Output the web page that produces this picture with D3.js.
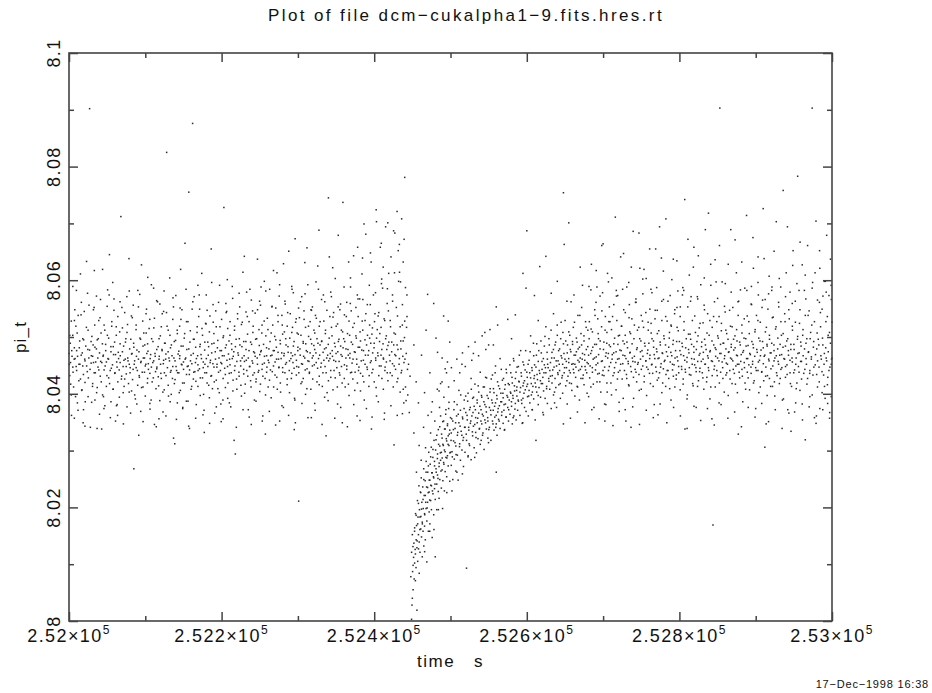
<!DOCTYPE html>
<html>
<head>
<meta charset="utf-8">
<script src="https://cdn.jsdelivr.net/npm/d3@7"></script>
<style>
  body { margin: 0; background: #fff; }
  svg { display: block; font-family: 'Liberation Sans', Arial, sans-serif; }
</style>
</head>
<body>
<div class="chart"></div>
<script>
// time is stored as seconds after T0, pi_t as (pi_t - PI0) / PI_UNIT
var T0 = 252000;
var PI0 = 8;
var PI_UNIT = 1e-4;

// flat lists of [time, pi_t] pairs
var preDip = [
  0,471, 1,432, 1,503, 2,455, 3,398, 3,528, 4,466, 5,447, 5,589, 6,412, 7,481, 7,357, 8,462, 9,519, 10,441, 10,476, 11,384, 12,538, 13,452, 14,493,
  15,426, 15,611, 16,468, 17,407, 18,497, 18,449, 19,372, 20,545, 21,458, 21,420, 22,484, 23,633, 24,439, 25,512, 25,395, 26,463, 27,902, 27,477, 28,341, 29,454,
  30,501, 31,418, 31,466, 32,548, 33,437, 34,389, 34,482, 35,456, 36,572, 37,411, 37,495, 38,447, 39,529, 40,364, 40,472, 41,431, 42,507, 43,455, 44,398, 44,619,
  45,468, 46,442, 46,521, 47,379, 48,487, 49,456, 49,413, 50,554, 51,462, 52,428, 52,498, 53,645, 54,441, 55,474, 55,386, 56,519, 57,451, 58,408, 58,483, 59,567,
  60,436, 61,469, 61,352, 62,503, 63,447, 64,421, 64,536, 65,462, 66,394, 67,488, 67,455, 68,712, 69,431, 70,516, 70,474, 71,402, 72,459, 73,543, 73,426, 74,491,
  75,448, 76,377, 76,508, 77,463, 78,418, 79,581, 79,452, 80,437, 81,496, 82,405, 82,470, 83,534, 84,443, 85,268, 85,482, 86,458, 87,391, 88,521, 88,446, 89,477,
  90,415, 91,553, 91,461, 92,432, 93,498, 94,369, 94,455, 95,627, 96,438, 97,484, 97,412, 98,507, 99,463, 100,449, 100,396, 101,541, 102,471, 103,427, 103,488, 104,453,
  105,515, 106,436, 106,383, 107,469, 108,592, 108,447, 109,421, 110,492, 111,458, 112,346, 112,533, 113,466, 114,409, 115,478, 115,444, 116,562, 117,430, 118,497, 118,461, 119,388,
  120,452, 121,518, 121,427, 122,476, 123,403, 124,545, 124,459, 125,437, 126,489, 127,361, 127,470, 128,825, 129,446, 130,512, 130,415, 131,463, 132,604, 133,438, 133,481, 134,399,
  135,467, 136,531, 136,448, 137,322, 138,492, 139,425, 139,458, 140,573, 141,441, 142,506, 142,384, 143,470, 144,437, 145,519, 145,462, 146,406, 147,484, 148,451, 148,548, 149,374,
  150,456, 151,498, 151,419, 152,665, 153,463, 154,434, 154,527, 155,448, 156,387, 157,479, 157,755, 158,442, 159,511, 160,408, 160,468, 161,453, 162,876, 163,426, 163,496, 164,571,
  165,439, 166,482, 166,357, 167,462, 168,518, 169,413, 169,451, 170,536, 171,444, 172,397, 172,487, 173,469, 174,612, 175,428, 175,503, 176,456, 177,371, 178,491, 178,437, 179,524,
  180,462, 181,419, 181,547, 182,448, 183,483, 184,393, 184,509, 185,455, 186,431, 187,596, 187,472, 188,409, 189,526, 190,447, 190,489, 191,366, 192,461, 193,518, 193,424, 194,452,
  195,494, 196,438, 196,561, 197,402, 198,476, 199,455, 199,382, 200,531, 201,467, 202,427, 202,499, 203,728, 204,445, 205,481, 205,411, 206,543, 207,459, 208,392, 208,515, 209,470,
  210,436, 211,503, 211,451, 212,377, 213,488, 214,462, 214,589, 215,424, 216,474, 217,519, 217,441, 218,294, 219,496, 220,457, 220,408, 221,532, 222,468, 223,431, 223,577, 224,486,
  225,449, 226,396, 226,522, 227,463, 228,614, 229,435, 229,492, 230,457, 231,417, 232,544, 232,478, 233,441, 234,505, 235,372, 235,463, 236,527, 237,448, 238,491, 238,423, 239,565,
  240,458, 241,433, 241,508, 242,474, 243,389, 244,542, 244,466, 245,421, 246,497, 247,452, 247,637, 248,438, 249,513, 250,469, 250,404, 251,556, 252,476, 253,443, 253,521, 254,361,
  255,487, 256,454, 256,598, 257,427, 258,502, 259,467, 259,438, 260,533, 261,412, 262,479, 262,455, 263,584, 264,442, 265,507, 265,393, 266,468, 267,521, 268,449, 268,617, 269,476,
  270,433, 271,495, 271,551, 272,461, 273,408, 274,527, 274,473, 275,446, 276,592, 277,488, 277,419, 278,462, 279,538, 280,446, 280,505, 281,376, 282,471, 283,563, 283,437, 284,497,
  285,455, 286,519, 286,426, 287,483, 288,651, 289,458, 289,402, 290,541, 291,472, 292,436, 292,508, 293,467, 294,578, 295,445, 295,492, 296,389, 297,526, 298,459, 298,433, 299,507,
  300,482, 301,211, 301,447, 302,534, 303,468, 304,418, 304,503, 305,571, 306,452, 307,489, 307,427, 308,546, 309,463, 310,399, 310,517, 311,476, 312,444, 313,592, 313,458, 314,501,
  315,436, 316,527, 316,472, 317,408, 318,488, 319,553, 319,449, 320,467, 321,512, 322,383, 322,478, 323,538, 324,455, 325,421, 325,497, 326,625, 327,462, 328,431, 328,519, 329,486,
  330,447, 331,566, 331,492, 332,413, 333,473, 334,528, 334,459, 335,394, 336,506, 337,481, 337,437, 338,547, 339,468, 340,745, 340,423, 341,498, 342,462, 343,579, 343,441, 344,517,
  345,476, 346,407, 346,535, 347,459, 348,489, 349,428, 349,603, 350,471, 351,446, 352,523, 352,382, 353,492, 354,457, 355,548, 355,433, 356,484, 357,512, 358,419, 358,466, 359,737,
  360,497, 361,451, 361,539, 362,412, 363,479, 364,561, 364,443, 365,506, 366,468, 367,397, 367,528, 368,463, 369,588, 369,437, 370,491, 371,454, 372,517, 372,426, 373,643, 374,474,
  375,438, 376,502, 376,552, 377,461, 378,419, 379,536, 379,482, 380,447, 381,567, 382,405, 382,493, 383,458, 384,611, 385,431, 385,512, 386,476, 387,389, 388,529, 388,452, 389,681,
  390,486, 391,443, 391,557, 392,468, 393,413, 394,521, 394,498, 395,455, 396,632, 397,437, 397,505, 398,472, 399,574, 400,421, 400,489, 401,541, 402,459, 403,396, 403,703, 404,513,
  405,467, 406,543, 406,432, 407,492, 408,658, 409,449, 409,517, 410,478, 411,586, 412,408, 412,463, 413,532, 414,441, 415,694, 415,497, 416,456, 417,559, 418,423, 418,485, 419,612,
  420,468, 421,529, 421,437, 422,641, 423,491, 424,453, 424,574, 425,412, 426,507, 427,683, 427,469, 428,443, 429,552, 430,721, 430,486, 431,427, 432,598, 433,462, 433,663, 434,518,
  435,479, 436,708, 436,441, 437,557, 438,493, 438,632, 439,455, 440,528, 441,412, 441,587, 442,471, 443,536, 440,781, 437,365, 434,403, 426,310
];

var preDipFill = [
  0.4,452, 1.7,489, 2.2,417, 3.6,476, 4.9,503, 5.3,438, 6.8,461, 7.1,529, 8.6,395, 9.4,448, 10.7,507, 11.2,466, 12.9,423, 13.5,481, 14.3,452, 15.8,539, 16.6,406, 17.4,472, 18.9,434, 19.2,495,
  20.6,461, 21.3,386, 22.8,517, 23.1,449, 24.7,478, 25.4,428, 26.2,556, 27.6,443, 28.9,492, 29.3,467, 30.8,413, 31.6,486, 32.1,455, 33.7,521, 34.5,437, 35.9,479, 36.2,402, 37.8,463, 38.4,497, 39.1,442,
  40.7,534, 41.5,457, 42.3,421, 43.8,488, 44.6,466, 45.2,395, 46.9,512, 47.4,449, 48.1,476, 49.7,432, 50.3,503, 51.8,461, 52.6,574, 53.2,418, 54.9,483, 55.5,445, 56.1,527, 57.7,408, 58.4,469, 59.8,491,
  60.3,437, 61.9,518, 62.5,456, 63.1,381, 64.6,473, 65.8,442, 66.4,509, 67.2,467, 68.7,426, 69.3,552, 70.9,448, 71.6,484, 72.2,413, 73.8,461, 74.5,497, 75.1,435, 76.7,522, 77.4,458, 78.9,403, 79.5,479,
  80.2,446, 81.8,537, 82.6,471, 83.3,425, 84.7,489, 85.5,452, 86.1,398, 87.9,513, 88.4,466, 89.6,441, 90.2,582, 91.7,474, 92.3,429, 93.8,496, 94.5,457, 95.1,411, 96.6,528, 97.4,463, 98.9,438, 99.3,486,
  100.7,452, 101.2,507, 102.8,419, 103.5,475, 104.1,443, 105.9,531, 106.4,462, 107.6,389, 108.3,497, 109.8,455, 110.5,428, 111.1,516, 112.7,471, 113.4,439, 114.9,564, 115.2,447, 116.8,483, 117.5,414, 118.3,466, 119.7,502,
  120.4,436, 121.9,478, 122.2,541, 123.6,453, 124.8,407, 125.3,489, 126.7,461, 127.1,432, 128.5,519, 129.9,474, 130.4,396, 131.7,458, 132.3,503, 133.8,441, 134.2,486, 135.6,427, 136.9,553, 137.5,463, 138.1,418, 139.7,494,
  140.3,448, 141.8,512, 142.4,437, 143.9,475, 144.5,402, 145.2,467, 146.7,531, 147.3,452, 148.9,419, 149.5,484, 150.1,443, 151.6,506, 152.2,461, 153.8,387, 154.4,478, 155.9,527, 156.3,449, 157.7,434, 158.5,491, 159.2,458,
  160.8,413, 161.4,549, 162.9,471, 163.5,438, 164.1,496, 165.7,455, 166.3,422, 167.8,508, 168.6,467, 169.2,441, 170.7,574, 171.5,483, 172.1,428, 173.6,462, 174.3,515, 175.9,446, 176.4,399, 177.8,477, 178.2,452, 179.6,523,
  180.3,437, 181.9,491, 182.5,468, 183.1,415, 184.7,537, 185.4,459, 186.8,432, 187.2,488, 188.6,453, 189.9,506, 190.4,421, 191.7,474, 192.3,546, 193.8,447, 194.5,481, 195.1,409, 196.6,463, 197.9,518, 198.4,441, 199.8,476,
  200.2,453, 201.7,389, 202.5,502, 203.3,467, 204.9,434, 205.6,559, 206.2,486, 207.8,448, 208.3,419, 209.7,493, 210.5,461, 211.1,527, 212.6,437, 213.4,478, 214.8,405, 215.3,466, 216.9,512, 217.5,449, 218.1,483, 219.6,426,
  220.9,541, 221.4,472, 222.7,438, 223.2,497, 224.8,458, 225.3,415, 226.6,483, 227.1,526, 228.9,443, 229.5,467, 230.2,401, 231.8,492, 232.4,459, 233.7,536, 234.3,431, 235.9,476, 236.5,448, 237.1,584, 238.6,412, 239.3,487,
  240.8,454, 241.4,519, 242.9,437, 243.2,472, 244.6,496, 245.3,426, 246.7,463, 247.1,548, 248.8,441, 249.4,485, 250.9,417, 251.3,474, 252.7,507, 253.5,452, 254.1,431, 255.8,528, 256.2,466, 257.6,398, 258.9,481, 259.4,447,
  260.7,513, 261.1,459, 262.8,424, 263.5,492, 264.3,467, 265.9,553, 266.4,439, 267.7,476, 268.2,412, 269.6,501, 270.1,456, 271.8,482, 272.4,429, 273.9,538, 274.6,461, 275.2,447, 276.7,494, 277.3,403, 278.8,472, 279.5,521,
  280.1,438, 281.7,467, 282.3,509, 283.8,452, 284.4,486, 285.9,416, 286.6,543, 287.2,473, 288.7,441, 289.3,498, 290.8,462, 291.4,427, 292.9,517, 293.5,455, 294.1,484, 295.6,392, 296.2,469, 297.8,532, 298.4,448, 299.9,476,
  300.5,505, 301.2,437, 302.7,479, 303.3,562, 304.8,453, 305.4,421, 306.9,492, 307.5,466, 308.1,531, 309.6,442, 310.3,488, 311.8,409, 312.4,474, 313.9,519, 314.5,457, 315.1,438, 316.7,496, 317.2,548, 318.8,463, 319.4,426,
  320.9,485, 321.5,451, 322.1,507, 323.6,472, 324.2,533, 325.8,445, 326.3,489, 327.9,416, 328.5,468, 329.1,527, 330.7,454, 331.3,493, 332.8,437, 333.4,574, 334.9,479, 335.6,448, 336.2,512, 337.7,463, 338.3,402, 339.8,487,
  340.4,458, 341.9,536, 342.5,471, 343.1,429, 344.7,502, 345.3,466, 346.8,543, 347.4,441, 348.9,483, 349.5,457, 350.2,519, 351.7,412, 352.3,474, 353.8,496, 354.4,437, 355.9,558, 356.5,469, 357.1,448, 358.6,509, 359.2,481,
  360.8,427, 361.4,492, 362.9,463, 363.5,536, 364.1,449, 365.6,478, 366.2,417, 367.8,503, 368.3,471, 369.9,546, 370.4,438, 371.7,487, 372.3,461, 373.9,524, 374.5,406, 375.1,473, 376.6,498, 377.2,452, 378.8,567, 379.4,441,
  380.9,482, 381.5,509, 382.1,436, 383.7,477, 384.3,528, 385.8,459, 386.4,421, 387.9,495, 388.5,468, 389.1,541, 390.6,447, 391.2,503, 392.8,476, 393.4,432, 394.9,557, 395.5,489, 396.1,458, 397.7,516, 398.3,443, 399.8,481,
  400.4,527, 401.9,463, 402.5,411, 403.1,498, 404.6,472, 405.2,537, 406.8,449, 407.4,506, 408.9,468, 409.5,594, 410.1,427, 411.6,488, 412.2,461, 413.8,529, 414.3,447, 415.9,502, 416.5,478, 417.1,437, 418.6,546, 419.2,491,
  420.8,458, 421.4,518, 422.9,474, 423.5,432, 424.1,563, 425.6,486, 426.2,449, 427.8,505, 428.3,467, 429.9,421, 430.5,537, 431.1,478, 432.6,452, 433.2,614, 434.8,493, 435.4,437, 436.9,521, 437.5,466, 438.1,408, 439.7,499,
  440.3,461, 441.8,388, 442.4,517, 443.6,443, 439.2,672, 431.5,652, 425.4,687, 417.8,701, 409.3,665, 402.6,724, 395.1,648, 386.7,699, 378.3,658, 366.5,632, 352.9,679, 341.2,641, 327.6,688, 311.9,657, 296.4,673, 281.1,629,
  18.5,349, 42.8,338, 63.7,362, 91.4,327, 117.9,356, 138.6,312, 156.8,343, 177.3,332, 199.5,351, 216.4,318, 238.9,346, 257.4,329, 276.1,352, 295.2,337, 317.6,358, 336.9,326, 358.2,349, 377.6,361, 396.4,338, 413.2,355,
  9.7,582, 33.2,617, 57.3,596, 78.6,638, 103.2,605, 124.6,581, 146.3,619, 168.9,591, 186.4,655, 207.5,601, 229.8,642, 251.7,588, 272.6,613, 292.3,584, 309.1,631, 323.7,597, 345.6,622, 368.9,604, 384.7,639, 411.8,623
];

// outer edges of the band before the dip
var preDipEdge = [
  3.3,362, 7.6,548, 11.8,371, 16.2,561, 20.9,343, 24.3,577, 29.7,385, 32.9,552, 36.8,339, 41.3,566, 45.8,374, 50.6,583, 54.2,358, 58.9,547, 62.2,379, 66.9,562, 71.3,347, 75.8,571, 80.7,366, 84.2,556,
  88.9,382, 92.7,575, 97.1,351, 101.6,549, 106.2,373, 110.9,586, 114.4,342, 119.1,558, 123.2,368, 127.8,543, 132.6,386, 136.3,569, 140.8,355, 145.6,551, 149.1,376, 153.4,584, 157.9,339, 162.3,562, 166.8,381, 171.2,549,
  175.6,363, 179.9,574, 184.3,348, 188.8,557, 193.1,377, 197.4,591, 201.9,356, 206.7,545, 210.2,384, 214.5,568, 219.3,341, 223.7,553, 228.1,372, 232.8,579, 236.2,359, 240.6,546, 245.1,387, 249.8,563, 253.3,352, 257.9,581,
  262.6,369, 266.2,554, 270.8,345, 275.5,572, 279.1,379, 283.4,558, 287.8,362, 291.9,589, 296.7,349, 300.9,551, 305.3,383, 309.4,576, 313.2,358, 317.8,547, 322.6,371, 326.9,584, 331.7,346, 335.2,562, 339.6,388, 343.9,571,
  348.3,357, 352.7,553, 356.1,376, 360.5,588, 364.9,342, 368.7,559, 373.2,381, 377.9,574, 381.4,353, 385.1,566, 389.8,374, 393.6,591, 397.2,359, 401.7,578, 405.4,386, 409.8,602, 413.5,366, 417.3,585, 421.9,379, 426.6,613,
  430.2,362, 434.5,597, 438.8,384, 442.9,574
];

var dip = [
  444,398, 445,452, 446,367, 447,431, 448,78, 449,3, 449,121, 450,40, 450,152, 451,55, 451,98, 452,137, 452,331, 453,102, 453,164, 454,118, 454,71, 455,143, 455,186, 456,19,
  456,129, 457,171, 457,105, 458,152, 458,207, 459,84, 459,139, 460,183, 460,121, 461,162, 461,226, 462,148, 462,197, 463,113, 463,174, 464,214, 464,158, 465,132, 465,249, 466,189,
  466,167, 467,221, 467,143, 468,198, 468,262, 469,104, 469,176, 470,235, 470,209, 471,158, 471,273, 472,192, 472,227, 473,248, 473,171, 474,212, 474,289, 475,196, 475,238, 476,261,
  476,147, 477,224, 477,302, 478,252, 478,187, 479,281, 479,233, 480,113, 480,214, 481,268, 481,319, 482,241, 482,196, 483,294, 483,257, 484,228, 484,337, 485,272, 485,216, 486,308,
  486,249, 487,283, 487,361, 488,234, 488,297, 489,266, 489,322, 490,311, 490,247, 491,352, 491,279, 492,229, 492,301, 493,338, 493,263, 494,288, 494,372, 495,317, 495,254, 496,344,
  496,291, 497,273, 497,326, 498,309, 498,385, 499,246, 499,336, 500,297, 500,358,
  455,421, 462,468, 468,512, 473,437, 478,559, 483,473, 487,418, 491,537, 496,456, 499,491, 458,384, 466,402, 475,368, 485,405, 493,444, 470,575, 481,498, 489,463, 497,528, 452,486
];

var dipFill = [
  449.5,28, 450.3,87, 450.8,131, 451.6,112, 452.4,74, 452.9,158, 453.7,126, 454.2,189, 454.8,94, 455.5,168, 456.3,141, 456.7,212, 457.4,183, 458.1,127, 458.6,238, 459.3,196, 459.8,161, 460.5,227, 461.2,184, 461.7,252,
  462.4,209, 463.1,171, 463.6,236, 464.3,198, 464.9,268, 465.5,221, 466.2,187, 466.8,247, 467.5,209, 468.1,281, 468.7,236, 469.4,199, 470.2,262, 470.8,226, 471.5,297, 472.1,248, 472.7,213, 473.4,276, 474.2,239, 474.8,306,
  475.5,261, 476.3,229, 476.9,288, 477.6,254, 478.4,318, 479.1,273, 479.7,241, 480.5,301, 481.3,262, 482.1,327, 482.8,286, 483.6,251, 484.4,311, 485.2,278, 485.9,342, 486.7,296, 487.5,264, 488.3,329, 489.1,287, 489.8,351,
  490.6,309, 491.4,276, 492.2,338, 492.9,298, 493.7,364, 494.5,321, 495.3,287, 496.1,347, 496.8,311, 497.6,374, 498.4,329, 499.2,296
];

// scattered points above and below the recovery curve
var dipSpread = [
  455.4,262, 458.9,309, 461.6,283, 464.7,341, 467.3,305, 470.6,362, 473.9,331, 476.2,386, 479.4,352, 482.7,408, 485.6,376, 488.9,421, 491.3,394, 494.8,437, 497.5,412, 501.2,446, 504.8,423, 508.3,461, 512.1,437, 515.7,472,
  519.4,448, 523.6,483, 527.9,459, 532.2,491, 536.8,467, 541.5,502, 546.3,478, 551.7,513, 556.2,486, 561.8,521,
  466.1,122, 472.8,158, 478.3,161, 484.1,196, 489.6,198, 495.2,226, 501.9,229, 508.4,262, 515.6,259, 523.1,291, 531.7,288, 540.2,318, 549.8,314, 559.3,341, 570.6,336, 582.1,358, 594.7,349, 607.3,372, 621.8,363, 636.4,384
];

var recovery = [
  501,274, 501,331, 502,298, 503,352, 503,249, 504,317, 505,386, 505,285, 506,339, 507,264, 507,308, 508,361, 509,292, 509,327, 510,248, 511,349, 511,406, 512,312, 513,283, 513,371,
  514,334, 515,301, 515,452, 516,356, 517,272, 517,323, 518,389, 519,341, 519,297, 520,367, 521,93, 521,318, 522,354, 523,289, 523,401, 524,336, 525,372, 525,309, 526,348, 527,427,
  527,284, 528,361, 529,326, 529,392, 530,343, 531,305, 531,378, 532,417, 533,332, 533,358, 534,296, 535,384, 535,349, 536,321, 537,403, 537,366, 538,339, 539,311, 539,438, 540,372,
  541,347, 541,394, 542,327, 543,361, 543,412, 544,302, 545,381, 545,354, 546,429, 547,338, 547,368, 548,397, 549,322, 549,352, 550,486, 551,376, 551,341, 552,409, 553,363, 553,318,
  554,389, 555,352, 555,433, 556,371, 557,336, 557,402, 558,359, 559,384, 559,449, 560,347, 561,391, 561,327, 562,368, 563,414, 563,355, 564,379, 565,339, 565,462, 566,401, 567,362,
  567,386, 568,424, 569,348, 569,393, 570,371, 571,408, 571,337, 572,382, 573,443, 573,359, 574,397, 575,376, 575,531, 576,352, 577,416, 577,389, 578,364, 579,437, 579,401, 580,378,
  581,347, 581,419, 582,392, 583,361, 583,458, 584,405, 585,383, 585,427, 586,354, 587,412, 587,396, 588,371, 589,448, 589,387, 590,421, 591,362, 591,403, 592,476, 593,389, 593,431,
  594,348, 595,414, 595,392, 596,451, 597,376, 597,423, 598,407, 599,369, 599,586, 600,438, 601,395, 601,417, 602,361, 603,459, 603,406, 604,384, 605,428, 605,502, 606,398, 607,441,
  607,372, 608,413, 609,467, 609,391, 610,432, 611,354, 611,419, 612,447, 613,403, 613,488, 614,425, 615,381, 615,457, 616,411, 617,436, 617,624, 618,394, 619,472, 619,418, 620,443,
  621,367, 621,429, 622,405, 623,484, 623,451, 624,392, 625,437, 625,518, 626,413, 627,461, 627,383, 628,446, 629,422, 629,497, 630,408, 631,455, 631,431, 632,374, 633,473, 633,419,
  634,442, 635,541, 635,398, 636,463, 637,427, 637,486, 638,411, 639,449, 639,376, 640,503, 641,434, 641,458, 642,416, 643,479, 643,441, 644,392, 645,467, 645,526, 646,428, 647,452,
  647,401, 648,488, 649,437, 649,663, 650,461, 651,414, 651,493, 652,446, 653,382, 653,472, 654,431, 655,509, 655,455, 656,419, 657,478, 657,437, 658,562, 659,452, 659,406, 660,487,
  661,443, 661,517, 662,468, 663,396, 663,452, 664,429, 665,498, 665,474, 666,413, 667,459, 667,538, 668,441, 669,482, 669,389, 670,463, 671,427, 671,506, 672,448, 673,591, 673,471,
  674,433, 675,493, 675,416, 676,459, 677,527, 677,442, 678,478, 679,401, 679,455, 680,512,
  530,471, 545,508, 560,553, 580,497, 595,612, 610,573, 625,642, 640,598, 655,701, 670,623, 600,687, 585,539, 615,529, 648,754, 632,577, 560,262, 612,318, 648,347
];

var recoveryFill = [
  500.7,318, 501.6,356, 502.4,289, 503.8,337, 504.5,372, 505.9,314, 506.7,349, 507.3,293, 508.6,381, 509.5,332, 510.2,364, 511.8,307, 512.6,343, 513.4,398, 514.9,327, 515.7,359, 516.3,318, 517.8,374, 518.5,341, 519.9,396,
  520.6,329, 521.7,362, 522.5,387, 523.8,341, 524.4,312, 525.9,376, 526.6,352, 527.3,408, 528.7,333, 529.5,367, 530.2,394, 531.8,346, 532.6,372, 533.4,323, 534.9,389, 535.7,357, 536.3,414, 537.8,338, 538.5,378, 539.9,352,
  540.6,397, 541.7,364, 542.5,331, 543.8,386, 544.4,412, 545.9,349, 546.6,377, 547.3,428, 548.7,358, 549.5,392, 550.2,337, 551.8,403, 552.6,371, 553.4,426, 554.9,384, 555.7,347, 556.3,409, 557.8,378, 558.5,437, 559.9,362,
  560.6,397, 561.7,421, 562.5,374, 563.8,352, 564.4,409, 565.9,386, 566.6,443, 567.3,368, 568.7,401, 569.5,427, 570.2,381, 571.8,416, 572.6,359, 573.4,437, 574.9,394, 575.7,418, 576.3,372, 577.8,451, 578.5,403, 579.9,386,
  580.6,429, 581.7,397, 582.5,462, 583.8,414, 584.4,373, 585.9,438, 586.6,406, 587.3,447, 588.7,389, 589.5,422, 590.2,468, 591.8,411, 592.6,437, 593.4,383, 594.9,456, 595.7,419, 596.3,401, 597.8,442, 598.5,476, 599.9,413,
  600.6,429, 601.7,452, 602.5,396, 603.8,437, 604.4,474, 605.9,418, 606.6,446, 607.3,403, 608.7,489, 609.5,427, 610.2,451, 611.8,412, 612.6,468, 613.4,434, 614.9,397, 615.7,476, 616.3,441, 617.8,423, 618.5,493, 619.9,457,
  620.6,418, 621.7,462, 622.5,437, 623.8,501, 624.4,446, 625.9,409, 626.6,473, 627.3,452, 628.7,427, 629.5,486, 630.2,441, 631.8,512, 632.6,463, 633.4,432, 634.9,478, 635.7,447, 636.3,403, 637.8,491, 638.5,458, 639.9,521,
  640.6,437, 641.7,476, 642.5,452, 643.8,418, 644.4,497, 645.9,463, 646.6,432, 647.3,508, 648.7,471, 649.5,446, 650.2,529, 651.8,457, 652.6,423, 653.4,486, 654.9,462, 655.7,441, 656.3,503, 657.8,474, 658.5,418, 659.9,492,
  660.6,453, 661.7,437, 662.5,526, 663.8,468, 664.4,447, 665.9,491, 666.6,412, 667.3,479, 668.7,456, 669.5,538, 670.2,443, 671.8,486, 672.6,461, 673.4,427, 674.9,502, 675.7,469, 676.3,448, 677.8,517, 678.5,437, 679.9,483
];

var late = [
  681,468, 681,395, 682,527, 683,449, 684,412, 684,583, 685,476, 686,438, 686,509, 687,461, 688,376, 689,548, 689,487, 690,442, 691,617, 691,465, 692,421, 693,532, 693,454, 694,497,
  695,436, 696,572, 696,479, 697,403, 698,518, 699,458, 699,433, 700,664, 701,491, 702,447, 702,382, 703,536, 704,472, 705,419, 705,508, 706,463, 707,597, 707,441, 708,486, 709,527,
  710,455, 711,398, 711,513, 712,469, 713,432, 714,557, 714,488, 715,446, 716,711, 717,474, 717,407, 718,529, 719,461, 720,438, 720,502, 721,385, 722,477, 723,641, 723,452, 724,519,
  725,426, 726,493, 726,468, 727,548, 728,441, 729,503, 729,372, 730,462, 731,588, 731,427, 732,481, 733,453, 734,534, 734,414, 735,472, 736,506, 737,439, 737,623, 738,488, 739,457,
  740,392, 741,521, 741,466, 742,443, 743,567, 744,478, 744,421, 745,512, 746,455, 747,683, 747,434, 748,497, 749,461, 750,538, 750,408, 751,476, 752,449, 752,602, 753,517, 754,431,
  755,484, 756,458, 756,543, 757,397, 758,471, 759,526, 759,443, 760,489, 761,655, 761,462, 762,418, 763,507, 764,452, 764,578, 765,436, 766,493, 767,469, 767,381, 768,532, 769,447,
  770,479, 771,547, 771,424, 772,462, 773,511, 774,437, 774,694, 775,486, 776,453, 777,402, 777,529, 778,471, 779,616, 779,444, 780,497, 781,459, 782,536, 782,413, 783,474, 784,441,
  785,563, 786,482, 786,427, 787,508, 788,456, 789,389, 789,521, 790,467, 791,442, 792,637, 792,494, 793,451, 794,412, 794,548, 795,476, 796,433, 797,517, 797,465, 798,581, 799,448,
  800,492, 801,407, 801,536, 802,469, 803,443, 804,574, 804,483, 805,426, 806,512, 807,459, 807,742, 808,438, 809,497, 810,464, 810,391, 811,553, 812,478, 813,446, 813,609, 814,505,
  815,433, 816,487, 816,462, 817,529, 818,414, 819,473, 819,658, 820,451, 821,508, 822,439, 822,376, 823,492, 824,567, 824,457, 825,423, 826,516, 827,471, 827,445, 828,592, 829,483,
  830,437, 831,525, 831,461, 832,408, 833,496, 834,452, 834,689, 835,478, 836,429, 837,541, 837,467, 838,446, 839,503, 840,391, 840,474, 841,628, 842,458, 843,517, 843,432, 844,169,
  845,486, 846,449, 846,562, 847,412, 848,478, 849,527, 849,441, 850,463, 851,498, 852,384, 852,536, 853,903, 853,471, 854,438, 855,511, 856,456, 856,597, 857,427, 858,489, 859,462,
  860,544, 861,433, 861,479, 862,506, 863,452, 864,397, 864,628, 865,474, 866,441, 867,519, 867,463, 868,487, 869,418, 870,552, 870,458, 871,496, 872,436, 873,671, 873,481, 874,449,
  875,513, 876,467, 876,402, 877,538, 878,452, 879,491, 879,428, 880,583, 881,469, 882,443, 882,507, 883,386, 884,476, 885,532, 885,455, 886,419, 887,497, 888,462, 888,714, 889,438,
  890,485, 891,527, 891,451, 892,407, 893,469, 894,558, 894,436, 895,492, 896,457, 897,621, 897,481, 898,423, 899,509, 900,446, 900,374, 901,538, 902,473, 903,441, 903,596, 904,498,
  905,459, 906,412, 906,526, 907,477, 908,439, 909,565, 909,492, 910,453, 911,638, 912,306, 912,468, 913,431, 914,517, 915,484, 915,397, 916,549, 917,461, 918,427, 918,503, 919,472,
  920,444, 921,582, 921,489, 922,413, 923,535, 924,458, 924,476, 925,396, 926,514, 927,467, 927,703, 928,432, 929,498, 930,452, 930,561, 931,418, 932,487, 933,527, 933,443, 934,469,
  935,389, 936,758, 936,506, 937,462, 938,541, 939,429, 939,484, 940,613, 941,451, 942,497, 942,372, 943,468, 944,532, 945,437, 945,579, 946,478, 947,413, 948,519, 948,456, 949,652,
  950,487, 951,442, 951,368, 952,526, 953,463, 954,594, 954,419, 955,783, 955,501, 956,448, 957,472, 958,548, 958,406, 959,491, 960,457, 961,627, 961,382, 962,513, 963,436, 964,479,
  965,319, 965,538, 966,462, 967,497, 968,427, 968,661, 969,473, 970,546, 971,441, 971,395, 972,508, 973,465, 974,903, 974,586, 975,433, 976,492, 977,358, 977,527, 978,451, 979,704,
  980,479, 981,412, 981,565, 982,496, 983,447, 984,621, 984,374, 985,518, 986,461, 987,402, 987,549, 988,486, 989,433, 990,598, 990,471, 991,392, 992,527, 993,458, 993,679, 994,416,
  995,503, 996,441, 996,573, 997,367, 998,489, 998,637, 999,452, 999,395, 1000,526, 1000,463
];

var lateFill = [
  680.6,453, 681.7,497, 682.4,428, 683.8,471, 684.3,514, 685.9,446, 686.5,482, 687.2,417, 688.7,463, 689.4,538, 690.8,451, 691.3,487, 692.9,435, 693.5,506, 694.1,469, 695.7,421, 696.2,493, 697.8,457, 698.4,546, 699.9,441,
  700.5,478, 701.1,432, 702.6,512, 703.2,466, 704.8,489, 705.4,403, 706.9,471, 707.5,527, 708.1,448, 709.6,483, 710.2,419, 711.8,461, 712.4,536, 713.9,472, 714.5,437, 715.1,498, 716.7,455, 717.3,582, 718.8,426, 719.4,487,
  720.9,462, 721.5,503, 722.1,441, 723.7,476, 724.3,519, 725.8,453, 726.4,392, 727.9,488, 728.5,467, 729.1,543, 730.6,434, 731.2,491, 732.8,457, 733.4,416, 734.9,509, 735.5,473, 736.1,448, 737.7,532, 738.3,463, 739.8,429,
  740.4,497, 741.9,456, 742.5,561, 743.1,438, 744.7,481, 745.3,452, 746.8,517, 747.4,406, 748.9,474, 749.5,493, 750.1,443, 751.6,528, 752.2,466, 753.8,421, 754.4,489, 755.9,458, 756.5,603, 757.1,447, 758.6,477, 759.2,512,
  760.8,436, 761.4,468, 762.9,524, 763.5,451, 764.1,497, 765.6,413, 766.2,482, 767.8,462, 768.3,547, 769.9,439, 770.5,474, 771.1,506, 772.7,428, 773.3,463, 774.8,491, 775.4,447, 776.9,563, 777.5,472, 778.1,419, 779.6,502,
  780.2,457, 781.8,486, 782.4,434, 783.9,528, 784.5,466, 785.1,441, 786.7,498, 787.3,409, 788.8,473, 789.4,519, 790.9,452, 791.5,487, 792.1,431, 793.7,541, 794.3,463, 795.8,426, 796.4,492, 797.9,458, 798.5,511, 799.1,437,
  800.7,476, 801.2,553, 802.8,448, 803.4,489, 804.9,417, 805.5,467, 806.1,527, 807.6,443, 808.2,481, 809.8,456, 810.4,398, 811.9,505, 812.5,472, 813.1,434, 814.7,496, 815.3,571, 816.8,452, 817.4,418, 818.9,483, 819.5,461,
  820.1,537, 821.6,446, 822.2,478, 823.8,413, 824.4,502, 825.9,468, 826.5,439, 827.1,524, 828.7,457, 829.3,491, 830.8,428, 831.4,473, 832.9,548, 833.5,452, 834.1,486, 835.6,421, 836.2,507, 837.8,463, 838.4,441, 839.9,529,
  840.5,476, 841.1,412, 842.7,493, 843.3,457, 844.8,536, 845.4,443, 846.9,481, 847.5,466, 848.1,597, 849.6,432, 850.2,502, 851.8,458, 852.4,419, 853.9,487, 854.5,471, 855.1,524, 856.7,446, 857.3,489, 858.8,403, 859.4,467,
  860.9,512, 861.5,454, 862.1,437, 863.7,496, 864.3,473, 865.8,547, 866.4,426, 867.9,482, 868.5,461, 869.1,518, 870.6,443, 871.2,477, 872.8,502, 873.4,417, 874.9,468, 875.5,493, 876.1,452, 877.7,563, 878.3,438, 879.8,486,
  880.4,457, 881.9,521, 882.5,431, 883.1,473, 884.7,498, 885.3,446, 886.8,408, 887.4,484, 888.9,537, 889.5,462, 890.1,428, 891.6,506, 892.2,471, 893.8,447, 894.4,589, 895.9,452, 896.5,487, 897.1,419, 898.7,466, 899.3,513,
  900.8,441, 901.4,478, 902.9,529, 903.5,456, 904.1,402, 905.6,493, 906.2,467, 907.8,438, 908.3,552, 909.9,481, 910.5,423, 911.1,466, 912.7,509, 913.3,447, 914.8,487, 915.4,432, 916.9,576, 917.5,458, 918.1,496, 919.6,413,
  920.2,472, 921.8,534, 922.4,449, 923.9,486, 924.5,421, 925.1,463, 926.7,518, 927.3,437, 928.8,479, 929.4,457, 930.9,603, 931.5,468, 932.1,427, 933.7,503, 934.3,446, 935.8,482, 936.4,391, 937.9,461, 938.5,527, 939.1,448,
  940.7,493, 941.2,434, 942.8,476, 943.4,548, 944.9,459, 945.5,418, 946.1,487, 947.6,463, 948.2,512, 949.8,437, 950.4,478, 951.9,563, 952.5,452, 953.1,409, 954.7,496, 955.3,471, 956.8,438, 957.4,524, 958.9,457, 959.5,484,
  960.1,426, 961.6,503, 962.2,467, 963.8,582, 964.4,443, 965.9,489, 966.5,452, 967.1,417, 968.7,538, 969.3,474, 970.8,436, 971.4,497, 972.9,461, 973.5,521, 974.1,398, 975.6,482, 976.2,447, 977.8,613, 978.4,469, 979.9,434,
  980.5,507, 981.1,458, 982.7,486, 983.3,421, 984.8,543, 985.4,467, 986.9,439, 987.5,498, 988.1,572, 989.6,452, 990.2,413, 991.8,481, 992.4,463, 993.9,536, 994.5,429, 995.1,474, 996.7,508, 997.3,447, 998.8,591, 999.4,461,
  684.7,628, 698.2,661, 711.5,604, 726.8,647, 739.4,686, 753.6,619, 768.9,655, 782.3,708, 796.7,634, 811.2,672, 824.8,643, 838.1,718, 852.5,661, 867.3,689, 881.7,632, 896.4,675, 909.8,726, 924.1,651, 941.6,694, 958.2,667,
  691.9,588, 705.8,612, 719.2,573, 733.6,596, 748.2,621, 762.7,584, 776.4,639, 790.1,601, 804.5,587, 818.3,623, 832.6,604, 846.8,636, 860.2,594, 874.7,613, 888.4,582, 903.1,641, 917.6,607, 932.8,588, 948.5,626, 964.9,609,
  702.3,352, 736.6,341, 771.9,363, 807.3,338, 842.6,356, 877.2,329, 913.7,347, 946.3,334, 979.6,361, 983.7,652, 991.3,598
];

// outer edges of the band after recovery
var lateEdge = [
  652.6,563, 657.2,357, 661.8,574, 666.4,368, 671.9,552, 676.3,349, 681.5,589, 685.2,372, 690.7,561, 694.8,356, 699.3,578, 703.6,381, 708.2,553, 712.9,344, 717.5,572, 721.1,369, 725.6,584, 729.9,352, 734.4,557, 738.8,377,
  743.2,561, 747.7,346, 752.1,576, 756.6,371, 761.3,549, 765.8,358, 770.2,587, 774.7,382, 779.1,566, 783.5,349, 787.9,573, 792.4,376, 796.8,552, 801.3,361, 805.7,582, 810.1,339, 814.6,563, 819.1,378, 823.5,571, 827.9,353,
  832.4,556, 836.8,374, 841.2,591, 845.7,345, 850.1,568, 854.6,381, 859.1,554, 863.5,357, 867.9,579, 872.4,368, 876.8,562, 881.3,342, 885.7,586, 890.2,376, 894.6,557, 899.1,359, 903.5,574, 907.9,383, 912.4,566, 916.8,351,
  921.3,588, 925.7,372, 930.2,553, 934.6,339, 939.1,571, 943.5,366, 947.9,559, 952.4,384, 956.8,582, 961.3,354, 965.7,567, 970.1,377, 974.6,596, 979.1,348, 983.5,561, 987.9,372, 992.4,579, 996.8,357, 999.1,566, 994.3,383
];

var xTicks = [252000, 252200, 252400, 252600, 252800, 253000];
var xTickMantissa = ['2.52', '2.522', '2.524', '2.526', '2.528', '2.53'];
var xMinorTicks = [252100, 252300, 252500, 252700, 252900];
var yTicks = [8, 8.02, 8.04, 8.06, 8.08, 8.1];
var yTickLabels = ['8', '8.02', '8.04', '8.06', '8.08', '8.1'];
var yMinorTicks = [8.01, 8.03, 8.05, 8.07, 8.09];

(function draw() {

  var width = 932, height = 693;
  var margins = { top: 53, right: 100, bottom: 72, left: 69 };

  var points = [];
  [preDip, preDipFill, preDipEdge, dip, dipFill, dipSpread,
   recovery, recoveryFill, late, lateFill, lateEdge].forEach(function (list) {
    for (var i = 0; i < list.length; i += 2) {
      points.push({ t: T0 + list[i], v: PI0 + list[i + 1] * PI_UNIT });
    }
  });

  var svg = d3.select('.chart').append('svg')
    .attr('width', width)
    .attr('height', height);

  var x = d3.scaleLinear()
    .domain([252000, 253000])
    .range([margins.left, width - margins.right]);

  var y = d3.scaleLinear()
    .domain([8, 8.1])
    .range([height - margins.bottom, margins.top]);

  // points first, frame on top
  svg.append('g')
    .selectAll('rect')
    .data(points)
    .join('rect')
      .attr('x', function (d) { return x(d.t) - 0.75; })
      .attr('y', function (d) { return y(d.v) - 0.75; })
      .attr('width', 1.5)
      .attr('height', 1.5)
      .attr('fill', '#2a2a2a');

  var x0 = margins.left, x1 = width - margins.right;
  var y0 = height - margins.bottom, y1 = margins.top;

  function ticks(axis, pos, values, size) {
    var g = svg.append('g')
      .attr('transform', pos)
      .call(axis.tickValues(values).tickSize(-size).tickFormat(''));
    g.select('.domain').remove();
    g.selectAll('line').attr('stroke', '#444').attr('stroke-width', 1.5);
  }

  ticks(d3.axisBottom(x), 'translate(0,' + y0 + ')', xTicks, 9);
  ticks(d3.axisBottom(x), 'translate(0,' + y0 + ')', xMinorTicks, 5);
  ticks(d3.axisTop(x), 'translate(0,' + y1 + ')', xTicks, 9);
  ticks(d3.axisTop(x), 'translate(0,' + y1 + ')', xMinorTicks, 5);
  ticks(d3.axisLeft(y), 'translate(' + x0 + ',0)', yTicks, 9);
  ticks(d3.axisLeft(y), 'translate(' + x0 + ',0)', yMinorTicks, 5);
  ticks(d3.axisRight(y), 'translate(' + x1 + ',0)', yTicks, 9);
  ticks(d3.axisRight(y), 'translate(' + x1 + ',0)', yMinorTicks, 5);

  svg.append('rect')
    .attr('x', x0)
    .attr('y', y1)
    .attr('width', x1 - x0)
    .attr('height', y0 - y1)
    .attr('fill', 'none')
    .attr('stroke', '#444')
    .attr('stroke-width', 1.6);

  // x tick labels, 2.52x10^5 style
  var xl = svg.append('g').selectAll('text')
    .data(xTicks)
    .join('text')
      .attr('x', function (d) { return x(d); })
      .attr('y', y0 + 21)
      .attr('text-anchor', 'middle')
      .attr('font-size', 18)
      .attr('letter-spacing', 1.4)
      .attr('fill', '#111');
  xl.append('tspan').text(function (d, i) { return xTickMantissa[i] + '\u00d710'; });
  xl.append('tspan').attr('dy', -8).attr('font-size', 12).text('5');

  svg.append('g').selectAll('text')
    .data(yTicks)
    .join('text')
      .attr('transform', function (d) { return 'translate(' + (x0 - 9) + ',' + y(d) + ') rotate(-90)'; })
      .attr('text-anchor', 'middle')
      .attr('font-size', 18)
      .attr('letter-spacing', 1.4)
      .attr('fill', '#111')
      .text(function (d, i) { return yTickLabels[i]; });

  svg.append('text')
    .attr('x', 466)
    .attr('y', 21)
    .attr('text-anchor', 'middle')
    .attr('font-size', 17)
    .attr('letter-spacing', 2.4)
    .attr('fill', '#111')
    .text('Plot of file dcm\u2212cukalpha1\u22129.fits.hres.rt');

  svg.append('text')
    .attr('x', (x0 + x1) / 2)
    .attr('y', y0 + 46)
    .attr('text-anchor', 'middle')
    .attr('font-size', 17)
    .attr('letter-spacing', 1.5)
    .attr('fill', '#111')
    .attr('xml:space', 'preserve')
    .text('time   s');

  svg.append('text')
    .attr('transform', 'translate(26,' + ((y0 + y1) / 2) + ') rotate(-90)')
    .attr('text-anchor', 'middle')
    .attr('font-size', 17)
    .attr('letter-spacing', 1.2)
    .attr('fill', '#111')
    .text('pi_t');

  svg.append('text')
    .attr('x', 929)
    .attr('y', 688)
    .attr('text-anchor', 'end')
    .attr('font-size', 11)
    .attr('letter-spacing', 0.8)
    .attr('fill', '#111')
    .text('17\u2212Dec\u22121998 16:38');
})();
</script>
</body>
</html>
